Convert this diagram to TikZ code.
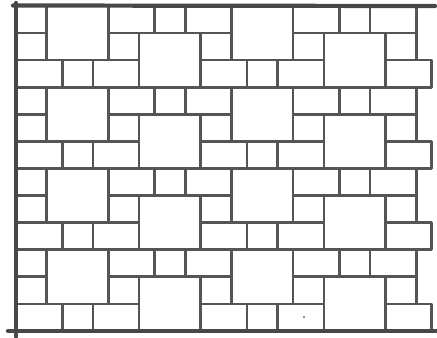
\documentclass[tikz,border=0pt]{standalone}
\usepackage{tikz}
\definecolor{pencil}{HTML}{555555}

\begin{document}
\begin{tikzpicture}[x=0.02cm,y=-0.02cm,
        tile/.style={draw=pencil,line width=1.5pt,line join=round},
        frame/.style={draw=pencil!85!black,line width=2.4pt,line cap=round}]
    \useasboundingbox (0,0) rectangle (437,338);
    \begin{scope}[shift={(16,6)},x=0.616cm,y=-0.5416cm]
        \foreach \j in {0,3,6,9}{
            \draw[tile] (0,\j) rectangle (1,\j+1);
            \draw[tile] (12,\j+1) rectangle (13,\j+2);
            \draw[tile] (12,\j+2) rectangle (13.5,\j+3);
            \foreach \i in {0,6}{
                \draw[tile] (\i+1,\j) rectangle (\i+3,\j+2);
                \draw[tile] (\i+3,\j) rectangle (\i+4.5,\j+1);
                \draw[tile] (\i+4.5,\j) rectangle (\i+5.5,\j+1);
                \draw[tile] (\i+5.5,\j) rectangle (\i+7,\j+1);
                \draw[tile] (\i,\j+1) rectangle (\i+1,\j+2);
                \draw[tile] (\i+3,\j+1) rectangle (\i+4,\j+2);
                \draw[tile] (\i+4,\j+1) rectangle (\i+6,\j+3);
                \draw[tile] (\i,\j+2) rectangle (\i+1.5,\j+3);
                \draw[tile] (\i+1.5,\j+2) rectangle (\i+2.5,\j+3);
                \draw[tile] (\i+2.5,\j+2) rectangle (\i+4,\j+3);
            }
        }
    \end{scope}
    \draw[frame] (13,5.5) -- (435,6);
    \draw[frame] (16,3) -- (16,337);
    \draw[frame] (8,331) -- (437,331);
    \fill[pencil] (304,317) circle (1);
\end{tikzpicture}
\end{document}
